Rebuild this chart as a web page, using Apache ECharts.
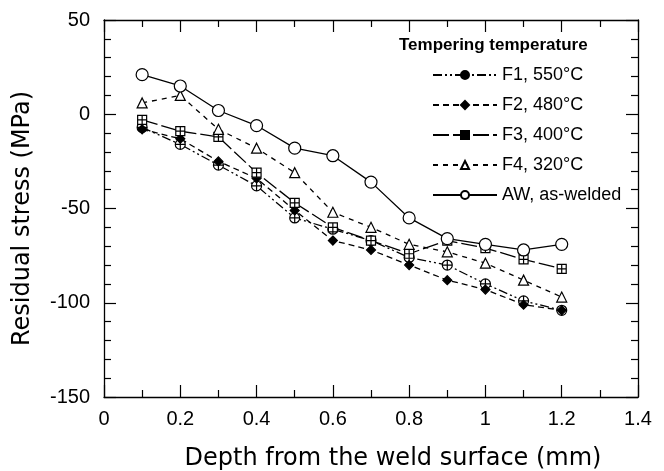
<!DOCTYPE html>
<html lang="en">
<head>
    <meta charset="UTF-8">
    <title>Residual stress vs depth</title>
    <script src="https://cdn.jsdelivr.net/npm/echarts@6/dist/echarts.min.js"></script>
    <style>
        html, body { margin: 0; padding: 0; background: #fff; }
        #chart { width: 664px; height: 471px; }
    </style>
</head>
<body>
    <div id="chart"></div>
    <script>
        // depth (mm) and measured residual stress (MPa)
        const depth = [0.1, 0.2, 0.3, 0.4, 0.5, 0.6, 0.7, 0.8, 0.9, 1.0, 1.1, 1.2];
        const f1 = [-7, -16, -27, -38, -55, -61, -67, -76, -80, -90, -99, -104];
        const f2 = [-8, -13, -25, -34, -51, -67, -72, -80, -88, -93, -101, -104];
        const f3 = [-3, -9, -12, -31, -47, -60, -67, -74, -67, -71, -77, -82];
        const f4 = [6, 10, -8, -18, -31, -52, -60, -69, -73, -79, -88, -97];
        const aw = [21, 15, 2, -6, -18, -22, -36, -55, -66, -69, -72, -69];

        const names = ['F1, 550°C', 'F2, 480°C', 'F3, 400°C', 'F4, 320°C', 'AW, as-welded'];

        // crossed circle / crossed square markers
        const circleCross = 'path://M10,0A10,10,0,1,1,-10,0A10,10,0,1,1,10,0ZM-10,0L10,0M0,-10L0,10';
        const squareCross = 'path://M0,0L20,0L20,20L0,20ZM0,10L20,10M10,0L10,20';

        const pairs = vals => depth.map((d, i) => [d, vals[i]]);
        const font = 'Liberation Sans, Arial, sans-serif';

        function makeSeries(name, vals, symbol, size, fill, dash) {
            return {
                name: name,
                type: 'line',
                data: pairs(vals),
                symbol: symbol,
                symbolSize: size,
                showSymbol: true,
                lineStyle: { color: '#000', width: 1.3, type: dash },
                itemStyle: { color: fill, borderColor: '#000', borderWidth: 1.2 },
                emphasis: { disabled: true },
                animation: false
            };
        }

        const axisCommon = {
            min: 0, max: 1.4, interval: 0.2,
            axisLine: { onZero: false, lineStyle: { color: '#000', width: 1.3 } },
            axisTick: { inside: true, length: 12, lineStyle: { color: '#000', width: 1.2 } },
            minorTick: { show: true, splitNumber: 2, length: 7, lineStyle: { color: '#000', width: 1.2 } },
            splitLine: { show: false }
        };
        const yCommon = {
            min: -150, max: 50, interval: 50,
            axisLine: { onZero: false, lineStyle: { color: '#000', width: 1.3 } },
            axisTick: { inside: true, length: 12, lineStyle: { color: '#000', width: 1.2 } },
            minorTick: { show: true, splitNumber: 5, length: 7, lineStyle: { color: '#000', width: 1.2 } },
            splitLine: { show: false }
        };

        const chart = echarts.init(document.getElementById('chart'));
        chart.setOption({
            backgroundColor: '#fff',
            animation: false,
            grid: { left: 104, right: 26, top: 20, bottom: 74, outerBoundsMode: 'none' },
            title: {
                text: 'Tempering temperature',
                left: 399, top: 37, padding: 0,
                textStyle: { fontFamily: font, fontSize: 17, fontWeight: 'bold', color: '#000' }
            },
            legend: {
                orient: 'vertical',
                left: 427, top: 61,
                itemWidth: 64, itemHeight: 10, itemGap: 12,
                textStyle: { fontFamily: font, fontSize: 18, color: '#000' },
                data: [
                    { name: names[0], itemStyle: { color: '#000' } },
                    { name: names[1] },
                    { name: names[2], itemStyle: { color: '#000' } },
                    { name: names[3] },
                    { name: names[4] }
                ]
            },
            xAxis: [
                Object.assign({
                    type: 'value', position: 'bottom',
                    name: 'Depth from the weld surface (mm)',
                    nameLocation: 'middle', nameGap: 50,
                    nameTextStyle: { fontFamily: 'DejaVu Sans', fontSize: 24, color: '#000', padding: [0, 0, 0, 44] },
                    axisLabel: { fontFamily: font, fontSize: 20, color: '#000', margin: 12,
                        formatter: v => String(Math.round(v * 10) / 10) }
                }, axisCommon),
                Object.assign({
                    type: 'value', position: 'top', axisLabel: { show: false }
                }, axisCommon)
            ],
            yAxis: [
                Object.assign({
                    type: 'value', position: 'left',
                    name: 'Residual stress (MPa)',
                    nameLocation: 'middle', nameGap: 69,
                    nameTextStyle: { fontFamily: 'DejaVu Sans', fontSize: 24, color: '#000', padding: [0, 20, 0, 0] },
                    axisLabel: { fontFamily: font, fontSize: 20, color: '#000', margin: 14 }
                }, yCommon),
                Object.assign({
                    type: 'value', position: 'right', axisLabel: { show: false }
                }, yCommon)
            ],
            series: [
                makeSeries(names[0], f1, circleCross, 10, '#fff', [9, 3, 2, 3, 2, 3]),
                makeSeries(names[1], f2, 'diamond', 9, '#000', [6, 4]),
                makeSeries(names[2], f3, squareCross, 9, '#fff', [16, 4]),
                makeSeries(names[3], f4, 'triangle', 10, '#fff', [5, 5]),
                makeSeries(names[4], aw, 'circle', 12, '#fff', 'solid')
            ]
        });
    </script>
</body>
</html>
